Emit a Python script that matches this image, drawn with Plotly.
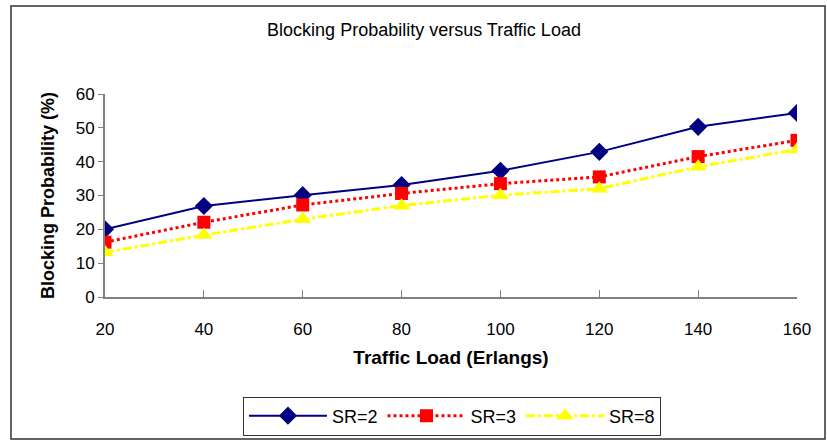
import plotly.graph_objects as go

traffic = [20, 40, 60, 80, 100, 120, 140, 160]
sr2 = [20.0, 26.9, 30.1, 33.1, 37.3, 42.9, 50.3, 54.4]
sr3 = [16.2, 22.1, 27.2, 30.6, 33.5, 35.5, 41.5, 46.3]
sr8 = [13.2, 18.3, 23.0, 27.0, 30.1, 32.0, 38.5, 43.6]
yticks = [0, 10, 20, 30, 40, 50, 60]

FONT = "Liberation Sans, Arial"

fig = go.Figure()
fig.add_trace(go.Scatter(x=traffic, y=sr2, name="SR=2", mode="lines+markers",
                         line=dict(color="#000080", width=2),
                         marker=dict(symbol="diamond", size=14, color="#000080")))
fig.add_trace(go.Scatter(x=traffic, y=sr3, name="SR=3", mode="lines+markers",
                         line=dict(color="#FF0000", width=3, dash="dot"),
                         marker=dict(symbol="square", size=13, color="#FF0000")))
fig.add_trace(go.Scatter(x=traffic, y=sr8, name="SR=8", mode="lines+markers",
                         line=dict(color="#FFFF00", width=3, dash="dashdot"),
                         marker=dict(symbol="triangle-up", size=15, color="#FFFF00")))

fig.update_layout(
    width=827, height=441,
    margin=dict(l=105, r=30, t=94, b=144, autoexpand=False),
    paper_bgcolor="white", plot_bgcolor="white",
    showlegend=True,
    title=dict(text="Blocking Probability versus Traffic Load",
               font=dict(family=FONT, size=18, color="black"),
               x=0.461, xref="paper", xanchor="center",
               y=1 - 30/441, yanchor="middle"),
    legend=dict(orientation="h", x=0.5014, xanchor="center", y=1-(416-94)/203, yanchor="middle",
                bordercolor="#333333", borderwidth=1, bgcolor="white",
                font=dict(family=FONT, size=18, color="black"),
                itemwidth=78, tracegroupgap=0),
)
fig.update_xaxes(
    type="linear", range=[20, 160], tickvals=traffic, ticktext=[str(t) for t in traffic],
    showgrid=False, zeroline=False, showline=True, linecolor="#808080", linewidth=2,
    ticks="inside", ticklen=7, tickcolor="#808080", tickwidth=1,
    tickfont=dict(family=FONT, size=17, color="black"), ticklabelstandoff=16,
    title=dict(text="<b>Traffic Load (Erlangs)</b>",
               font=dict(family=FONT, size=19, color="black"), standoff=12),
)
fig.update_yaxes(
    range=[0, 60], tickvals=yticks, ticktext=[str(t) for t in yticks],
    showgrid=False, zeroline=False, showline=True, linecolor="#808080", linewidth=2,
    ticks="outside", ticklen=5, tickcolor="#808080", tickwidth=1,
    tickfont=dict(family=FONT, size=17, color="black"),
    title=dict(text="<b>Blocking Probability (%)</b>",
               font=dict(family=FONT, size=18, color="black"), standoff=16),
)
fig.add_shape(type="rect", xref="paper", yref="paper",
              x0=(11-105)/692, x1=(825-105)/692,
              y0=1-(439-94)/203, y1=1-(6-94)/203,
              line=dict(color="#333333", width=1.5), fillcolor="rgba(0,0,0,0)", layer="below")

fig.write_html("out.html")
